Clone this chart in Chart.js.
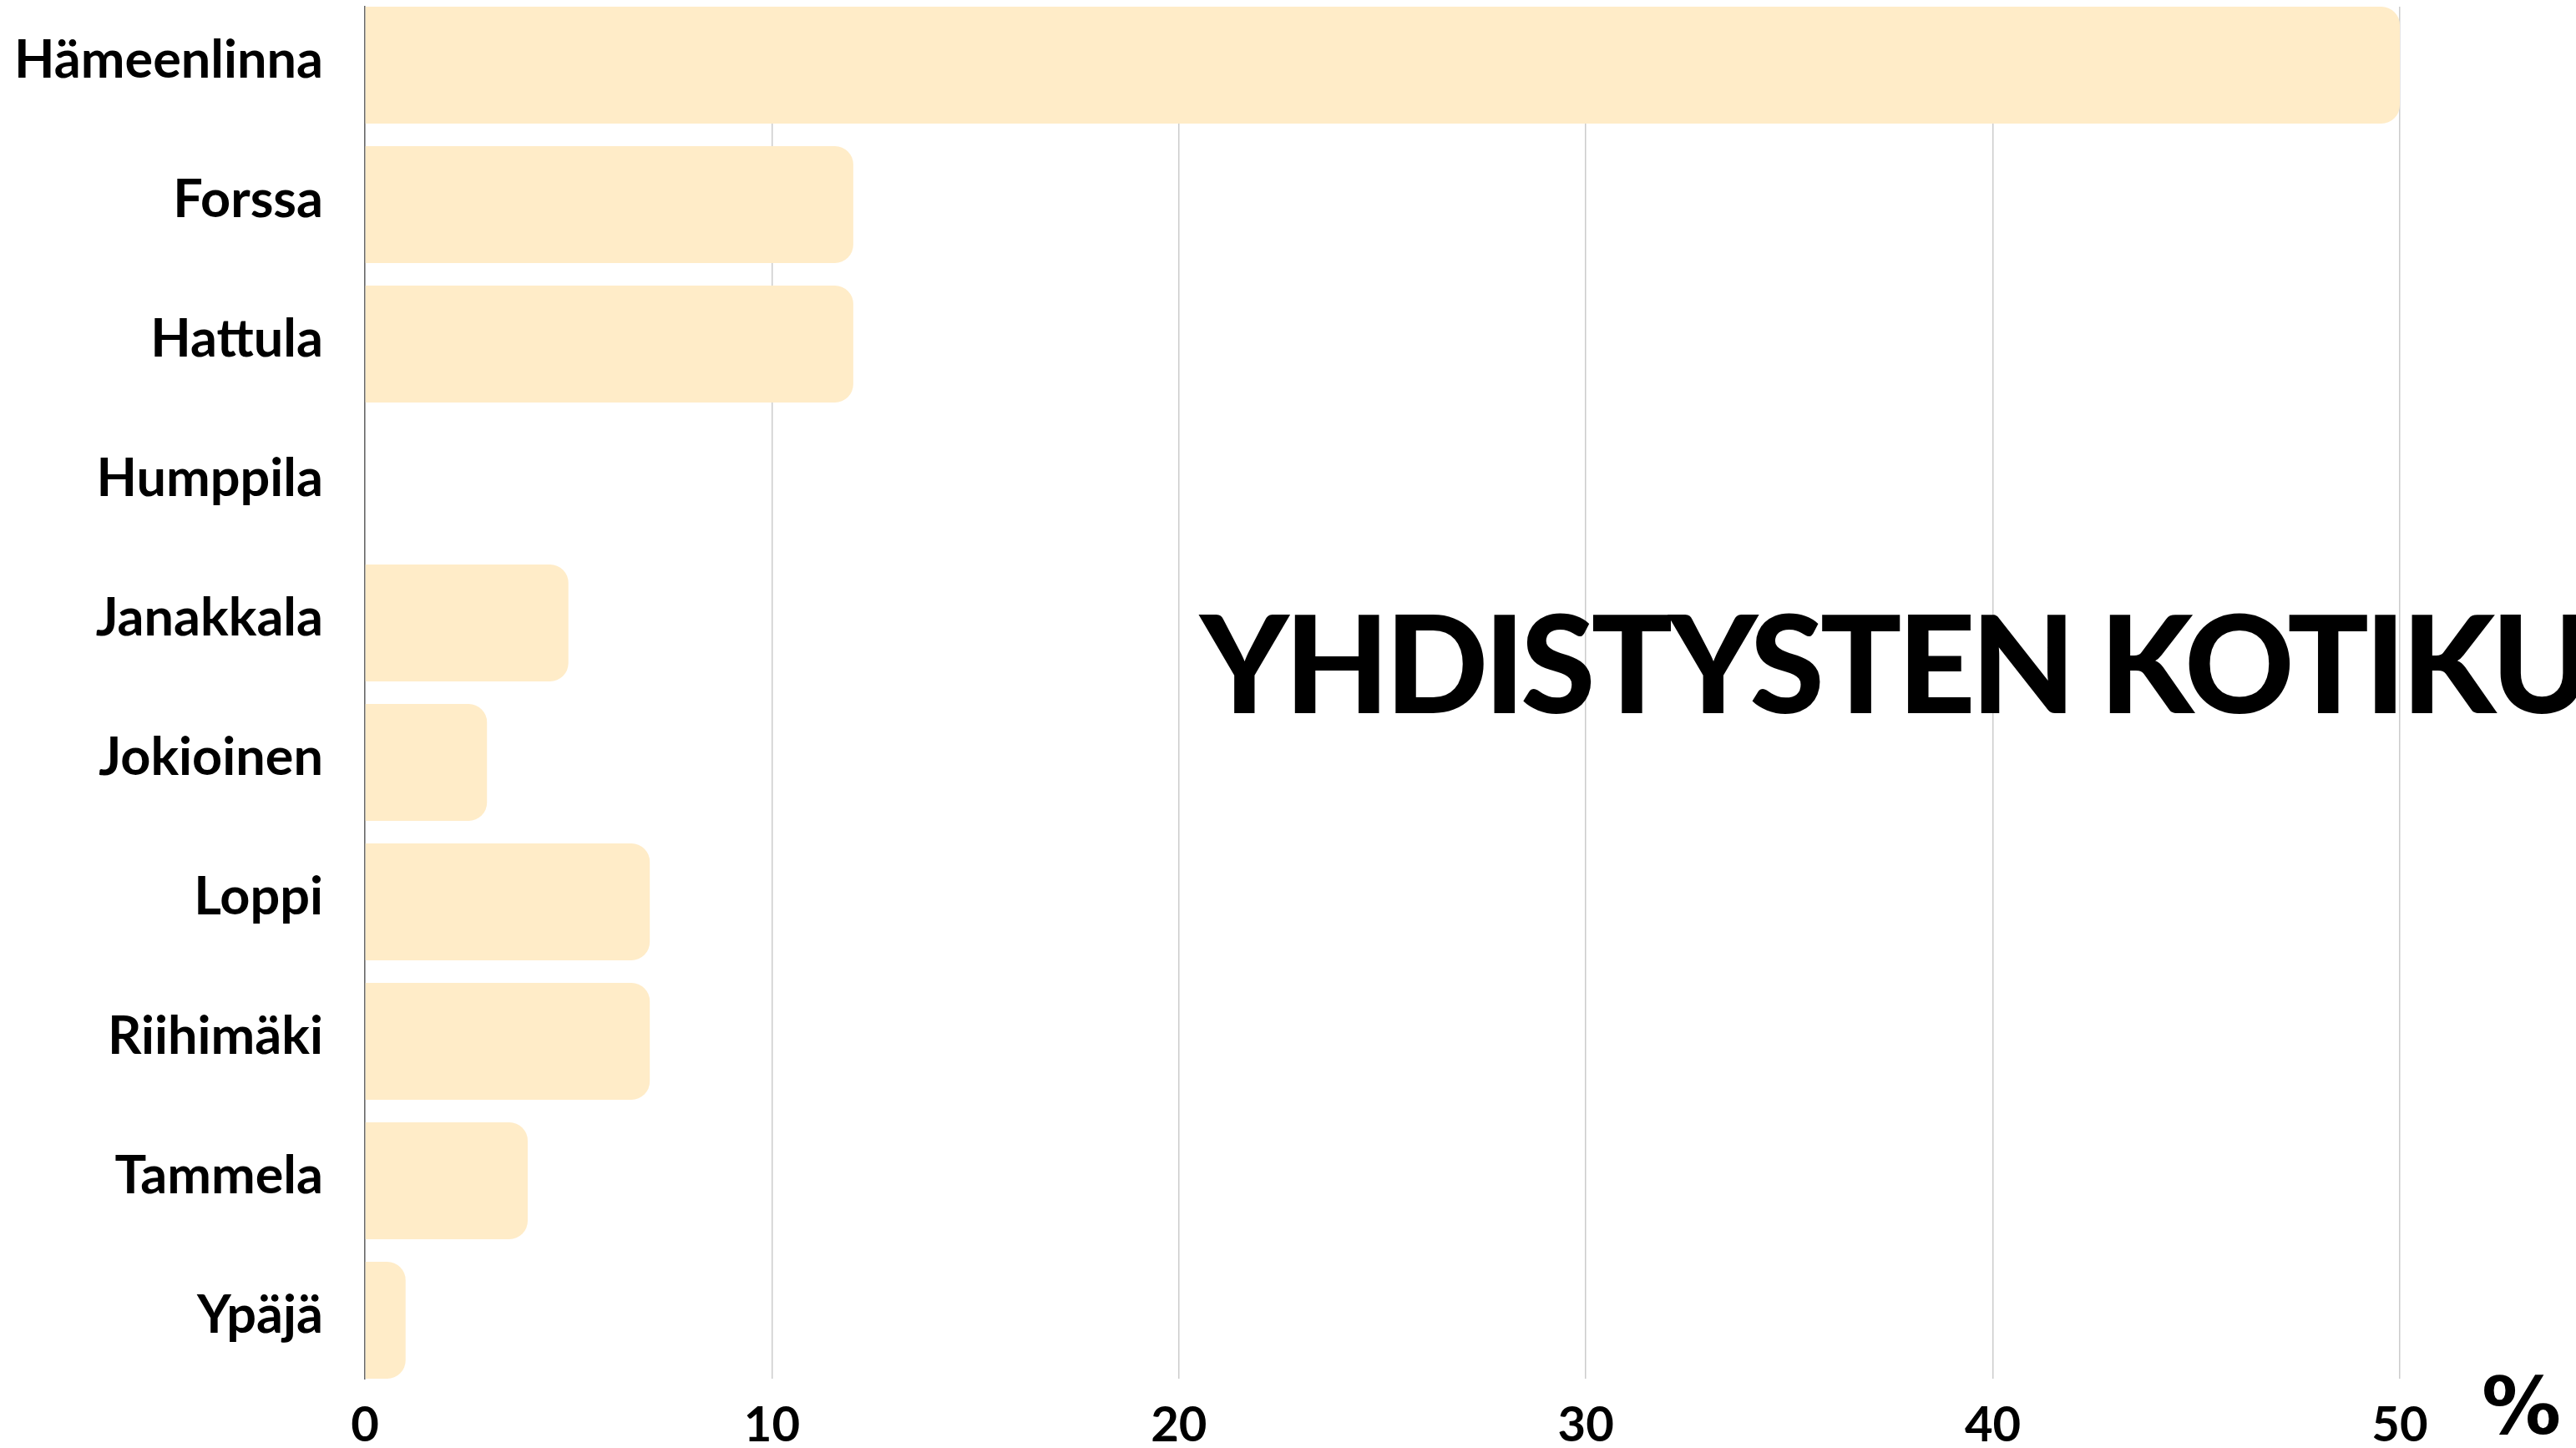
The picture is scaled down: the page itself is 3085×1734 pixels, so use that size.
<!DOCTYPE html>
<html>
<head>
<meta charset="utf-8">
<script src="https://cdn.jsdelivr.net/npm/chart.js@4"></script>
<style>
  html, body { margin: 0; padding: 0; background: #fff; overflow: hidden; }
  #wrap { position: relative; width: 3085px; height: 1734px; }
</style>
</head>
<body>
<div id="wrap"><canvas id="c"></canvas></div>
<script>
const categories = ['Hämeenlinna', 'Forssa', 'Hattula', 'Humppila', 'Janakkala', 'Jokioinen', 'Loppi', 'Riihimäki', 'Tammela', 'Ypäjä'];
const shares = [50, 12, 12, 0, 5, 3, 7, 7, 4, 1];
const xTicks = [0, 10, 20, 30, 40, 50];
const titleText = 'YHDISTYSTEN KOTIKUNNAT';
const unitText = '%';

const overlayText = {
  id: 'overlayText',
  afterDraw(chart) {
    const ctx = chart.ctx;
    ctx.save();
    ctx.fillStyle = '#000';
    ctx.textAlign = 'left';
    ctx.textBaseline = 'alphabetic';
    ctx.font = '900 162px Lato';
    ctx.letterSpacing = '-5px';
    ctx.fillText(titleText, 1437, 854);
    ctx.letterSpacing = '0px';
    ctx.font = 'bold 95px "DejaVu Sans"';
    ctx.fillText(unitText, 2972, 1717);
    ctx.restore();
  }
};

function noPad(scale) {
  scale.paddingTop = 0;
  scale.paddingBottom = 0;
  scale.paddingLeft = 0;
  scale.paddingRight = 0;
}

new Chart(document.getElementById('c'), {
  type: 'bar',
  data: {
    datasets: [{
      data: shares.map((v, i) => ({ x: v, y: i })),
      backgroundColor: '#FFECC8',
      borderWidth: 0,
      borderRadius: 22,
      borderSkipped: 'start',
      categoryPercentage: 1,
      barPercentage: 0.838
    }]
  },
  options: {
    indexAxis: 'y',
    responsive: true,
    maintainAspectRatio: false,
    animation: false,
    layout: { padding: { top: 8, right: 211, bottom: 0, left: 0 } },
    plugins: { legend: { display: false }, tooltip: { enabled: false }, title: { display: false } },
    scales: {
      y: {
        type: 'linear',
        reverse: true,
        offset: false,
        bounds: 'data',
        min: -0.4192,
        max: categories.length - 1 + 0.4192,
        afterBuildTicks: (scale) => { scale.ticks = categories.map((_, i) => ({ value: i })); },
        afterFit: (scale) => { scale.width = 437; noPad(scale); },
        grid: { display: false, drawTicks: false, offset: false },
        border: { display: true, color: '#666', width: 1.5 },
        ticks: {
          padding: 50,
          labelOffset: -5,
          color: '#000',
          font: { family: 'Lato', size: 63, weight: 'bold' },
          callback: (value) => categories[value]
        }
      },
      x: {
        type: 'linear',
        min: 0,
        max: 50,
        afterBuildTicks: (scale) => { scale.ticks = xTicks.map(v => ({ value: v })); },
        afterFit: (scale) => { scale.height = 83; noPad(scale); },
        grid: { color: '#cccccc', lineWidth: 1.5, drawTicks: false },
        border: { display: false },
        ticks: {
          padding: 21,
          color: '#000',
          font: { family: 'Lato', size: 58, weight: 'bold' }
        }
      }
    }
  },
  plugins: [overlayText]
});
</script>
</body>
</html>
